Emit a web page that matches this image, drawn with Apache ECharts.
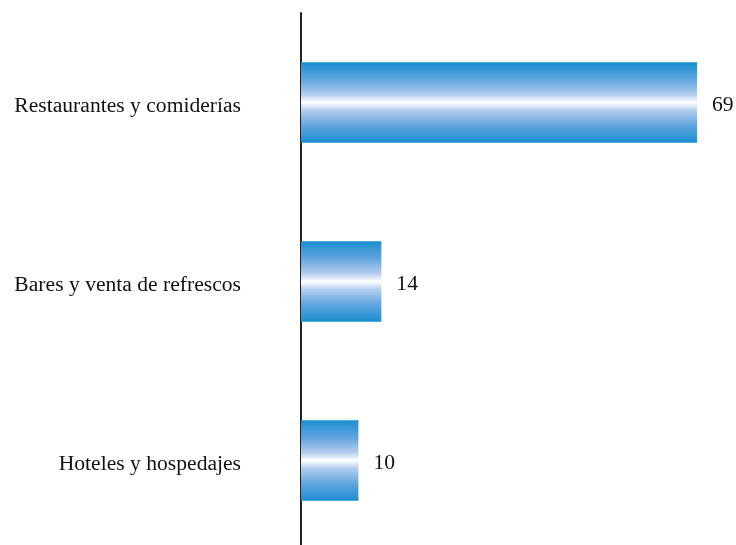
<!DOCTYPE html>
<html><head><meta charset="utf-8">
<script src="https://cdn.jsdelivr.net/npm/echarts@6/dist/echarts.min.js"></script>
<style>html,body{margin:0;padding:0;background:#fff}#c{width:736px;height:545px}</style>
</head><body><div id="c"></div>
<script>
const categories = ["Restaurantes y comiderías", "Bares y venta de refrescos", "Hoteles y hospedajes"];
const values = [69, 14, 10];

const chart = echarts.init(document.getElementById('c'));
const grad = new echarts.graphic.LinearGradient(0, 0, 0, 1, [
  {offset: 0, color: '#1a8fd1'},
  {offset: 0.22, color: '#63a5df'},
  {offset: 0.4, color: '#b3cdef'},
  {offset: 0.5, color: '#ffffff'},
  {offset: 0.6, color: '#b3cdef'},
  {offset: 0.78, color: '#63a5df'},
  {offset: 1, color: '#1a8fd1'}
]);
chart.setOption({
  animation: false,
  backgroundColor: '#fff',
  grid: {left: 301, top: 13, width: 396, height: 537, containLabel: false, outerBoundsMode: 'none'},
  xAxis: {type: 'value', min: 0, max: 69, show: false},
  yAxis: {
    type: 'category', data: categories, inverse: true,
    axisLine: {show: true, lineStyle: {color: '#222', width: 2}},
    axisTick: {show: false},
    axisLabel: {
      margin: 60, color: '#111', fontFamily: 'Liberation Serif', fontSize: 21.6,
      formatter: '{a|{value}}',
      rich: {a: {color: '#111', fontFamily: 'Liberation Serif', fontSize: 21.6, padding: [7, 0, 0, 0]}}
    }
  },
  series: [{
    type: 'bar', data: values, barWidth: '45%',
    itemStyle: {color: grad},
    label: {show: true, position: 'right', distance: 15, offset: [0, 3], color: '#111', fontFamily: 'Liberation Serif', fontSize: 21.6}
  }]
});
</script></body></html>
